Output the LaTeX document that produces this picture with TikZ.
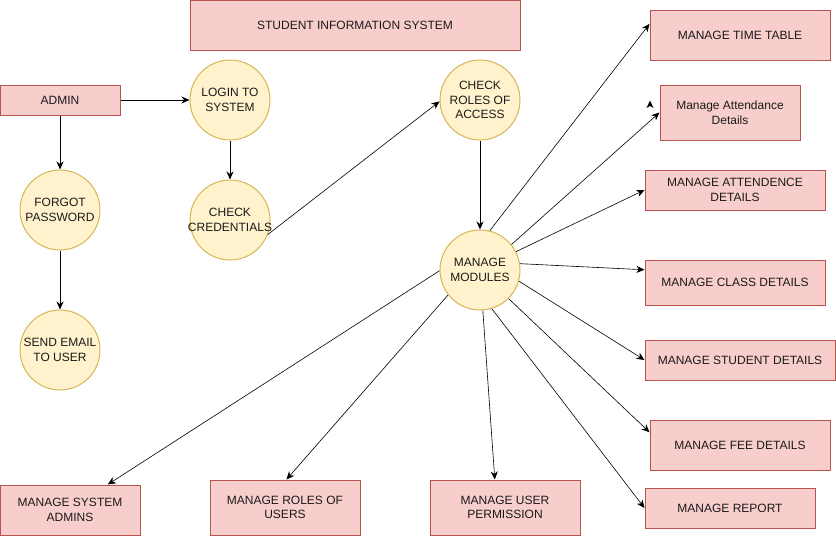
\documentclass[tikz,border=0pt]{standalone}
\usepackage{fontspec}
\setmainfont{Liberation Sans}
\usetikzlibrary{arrows.meta}
\definecolor{pinkfill}{HTML}{F8CECC}
\definecolor{pinkline}{HTML}{B85450}
\definecolor{yelfill}{HTML}{FFF2CC}
\definecolor{yelline}{HTML}{D6B656}
\definecolor{txt}{HTML}{1A1A1A}
\begin{document}
\begin{tikzpicture}[x=1pt,y=-1pt,
  every node/.style={font=\fontsize{12}{14.5}\selectfont, text=txt, align=center, inner sep=0pt},
  box/.style={rectangle, draw=pinkline, fill=pinkfill, line width=1pt},
  proc/.style={circle, draw=yelline, fill=yelfill, line width=1pt, minimum size=80pt},
  conn/.style={line width=0.8pt, -{Stealth[length=8pt,width=7pt,inset=2.5pt]}}
]
\useasboundingbox (0,0) rectangle (836,536);

% boxes
\node[box, minimum width=330pt, minimum height=50pt] (title) at (355,25) {STUDENT INFORMATION SYSTEM};
\node[box, minimum width=120pt, minimum height=30pt] (admin) at (60,100) {ADMIN};
\node[box, minimum width=180pt, minimum height=50pt] (tt) at (740,35) {MANAGE TIME TABLE};
\node[box, minimum width=140pt, minimum height=55pt] (mad) at (730,112.5) {Manage Attendance\\Details};
\node[box, minimum width=180pt, minimum height=40pt] (att) at (735,190) {MANAGE ATTENDENCE\\DETAILS};
\node[box, minimum width=180pt, minimum height=45pt] (cls) at (735,282.5) {MANAGE CLASS DETAILS};
\node[box, minimum width=190pt, minimum height=40pt] (stu) at (740,360) {MANAGE STUDENT DETAILS};
\node[box, minimum width=180pt, minimum height=50pt] (fee) at (740,445) {MANAGE FEE DETAILS};
\node[box, minimum width=170pt, minimum height=40pt] (rep) at (730,508) {MANAGE REPORT};
\node[box, minimum width=150pt, minimum height=55pt] (perm) at (505,507.5) {MANAGE USER\\PERMISSION};
\node[box, minimum width=150pt, minimum height=55pt] (roles) at (285,507.5) {MANAGE ROLES OF\\USERS};
\node[box, minimum width=140pt, minimum height=50pt] (sysad) at (70,510) {MANAGE SYSTEM\\ADMINS};

% processes
\node[proc] (login) at (230,100) {};
\node (loginT) at (login) {LOGIN TO\\SYSTEM};
\node[proc] (cred) at (230,220) {};
\node (credT) at (cred) {CHECK\\CREDENTIALS};
\node[proc] (forgot) at (60,210) {};
\node (forgotT) at (forgot) {FORGOT\\PASSWORD};
\node[proc] (email) at (60,350) {};
\node (emailT) at (email) {SEND EMAIL\\TO USER};
\node[proc] (roles2) at (480,100) {};
\node (roles2T) at (roles2) {CHECK\\ROLES OF\\ACCESS};
\node[proc] (mm) at (480,270) {};
\node (mmT) at (mm) {MANAGE\\MODULES};

% connectors
\draw[conn] (admin.east) -- (login.west);
\draw[conn] (admin.south) -- (forgot.north);
\draw[conn] (login.south) -- (cred.north);
\draw[conn] (forgot.south) -- (email.north);
\draw[conn, line width=0.6pt] (cred.-21) -- (roles2.182);
\draw[conn] (roles2.south) -- (mm.north);

\draw[conn, line width=0.6pt] (mm.76) -- (tt.173);
\draw[conn, line width=0.6pt] (mm.39) -- (mad.west);
\draw[conn, line width=0.6pt] (mm.27) -- (att.west);
\draw[conn, line width=0.6pt] (mm.9) -- (cls.172.7);
\draw[conn, line width=0.6pt] (mm.-16) -- (stu.west);
\draw[conn, line width=0.6pt] (mm.-45) -- (fee.172);
\draw[conn, line width=0.6pt] (mm.-73) -- (rep.west);
\draw[conn, line width=0.6pt] (mm.-86) -- (perm.110);
\draw[conn, line width=0.6pt] (mm.218) -- (roles.87);
\draw[conn, line width=0.6pt] (mm.181) -- (sysad.34);

% stray arrowhead
\fill[black] (650,100.5) -- (653.5,108) -- (650,106) -- (646.5,108) -- cycle;
\end{tikzpicture}
\end{document}
